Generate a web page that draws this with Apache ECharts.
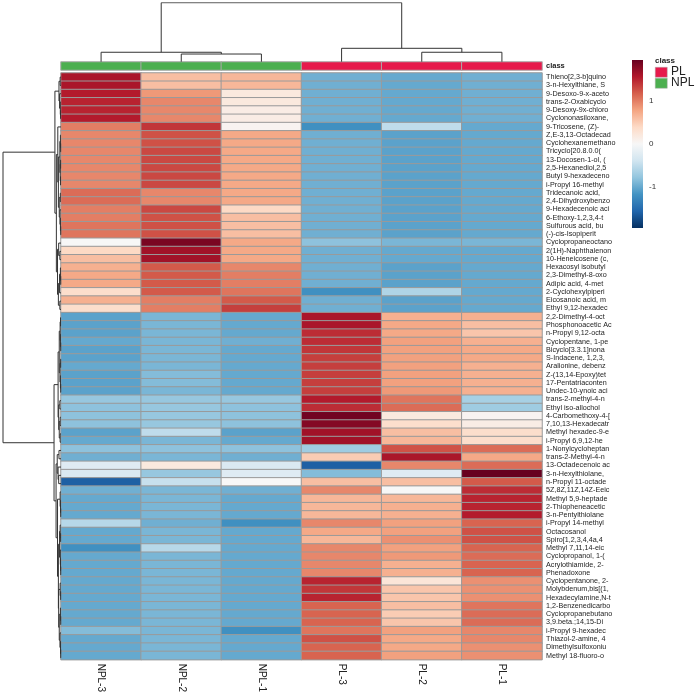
<!DOCTYPE html>
<html><head><meta charset="utf-8">
<script src="https://cdn.jsdelivr.net/npm/echarts@6/dist/echarts.min.js"></script>
<style>html,body{margin:0;padding:0;background:#fff}#c{width:700px;height:695px}</style>
</head><body><div id="c"></div>
<script>
// ---------- data ----------
const columns = ['NPL-3','NPL-2','NPL-1','PL-3','PL-2','PL-1'];
const columnClass = ['NPL','NPL','NPL','PL','PL','PL'];
const classNames = ['PL','NPL'];
const classColors = {PL:'#E6194B', NPL:'#4CAF50'};
const rowLabels = ["Thieno[2,3-b]quino","3-n-Hexylthiane, S","9-Desoxo-9-x-aceto","trans-2-Oxabicyclo","9-Desoxy-9x-chloro","Cyclononasiloxane,","9-Tricosene, (Z)-","Z,E-3,13-Octadecad","Cyclohexanemethano","Tricyclo[20.8.0.0(","13-Docosen-1-ol, (","2,5-Hexanediol,2,5","Butyl 9-hexadeceno","i-Propyl 16-methyl","Tridecanoic acid,","2,4-Dihydroxybenzo","9-Hexadecenoic aci","6-Ethoxy-1,2,3,4-t","Sulfurous acid, bu","(-)-cis-Isopiperit","Cyclopropaneoctano","2(1H)-Naphthalenon","10-Heneicosene (c,","Hexacosyl isobutyl","2,3-Dimethyl-8-oxo","Adipic acid, 4-met","2-Cyclohexylpiperi","Eicosanoic acid, m","Ethyl 9,12-hexadec","2,2-Dimethyl-4-oct","Phosphonoacetic Ac","n-Propyl 9,12-octa","Cyclopentane, 1-pe","Bicyclo[3.3.1]nona","S-Indacene, 1,2,3,","Aralionine, debenz","Z-(13,14-Epoxy)tet","17-Pentatriaconten","Undec-10-ynoic aci","trans-2-methyl-4-n","Ethyl iso-allochol","4-Carbomethoxy-4-[","7,10,13-Hexadecatr","Methyl hexadec-9-e","i-Propyl 6,9,12-he","1-Nonylcycloheptan","trans-2-Methyl-4-n","13-Octadecenoic ac","3-n-Hexylthiolane,","n-Propyl 11-octade","5Z,8Z,11Z,14Z-Eeic","Methyl 5,9-heptade","2-Thiopheneacetic","3-n-Pentylthiolane","i-Propyl 14-methyl","Octacosanol","Spiro[1,2,3,4,4a,4","Methyl 7,11,14-eic","Cyclopropanol, 1-(","Acrylothiamide, 2-","Phenadoxone","Cyclopentanone, 2-","Molybdenum,bis[(1,","Hexadecylamine,N-t","1,2-Benzenedicarbo","Cyclopropanebutano","3,9.beta.;14,15-Di","i-Propyl 9-hexadec","Thiazol-2-amine, 4","Dimethylsulfoxoniu","Methyl 18-fluoro-o"];

const valsNPL3 = [1.6,1.6,1.55,1.5,1.5,1.55,1.0,0.95,0.95,0.95,0.95,0.95,0.95,0.95,1.1,1.1,1.0,1.0,1.05,1.05,0.0,0.4,0.6,0.7,0.75,0.75,0.35,0.7,0.35,
 -1.05,-1.05,-1.05,-1.0,-1.05,-1.05,-1.0,-1.05,-1.05,-1.05,
 -0.75,-0.8,-0.8,-0.8,-1.05,-1.0,
 -0.8,-0.95,-0.25,-0.3,-1.6,
 -0.95,-1.0,-1.0,-1.0,
 -0.55,-1.0,-1.0,-1.2,-1.0,-1.0,-1.0,
 -1.0,-1.0,-1.0,-1.0,-1.0,-1.0,-0.85,-1.0,-1.0,-1.0];
const valsNPL2 = [0.6,0.6,0.85,0.95,0.95,0.95,1.4,1.25,1.25,1.3,1.3,1.3,1.3,1.3,0.95,0.95,1.3,1.25,1.25,1.25,1.85,1.65,1.65,1.2,1.2,1.2,1.2,1.0,1.0,
 -0.9,-0.9,-0.9,-0.9,-0.9,-0.9,-0.9,-0.85,-0.85,-0.9,
 -0.75,-0.75,-0.75,-0.75,-0.5,-0.9,
 -0.8,-0.9,0.2,-0.75,-0.45,
 -0.9,-0.9,-0.9,-0.9,
 -0.95,-0.9,-0.9,-0.55,-0.9,-0.9,-0.9,
 -0.9,-0.9,-0.9,-0.9,-0.9,-0.9,-0.9,-0.9,-0.9,-0.9];
const valsNPL1 = [0.65,0.65,0.2,0.2,0.15,0.15,0.05,0.75,0.75,0.75,0.75,0.75,0.75,0.75,0.75,0.75,0.4,0.6,0.6,0.6,0.75,0.75,0.75,0.95,1.0,1.0,1.05,1.2,1.35,
 -1.0,-1.0,-1.0,-0.95,-1.0,-1.0,-1.0,-1.0,-1.0,-1.0,
 -0.75,-0.8,-0.8,-0.8,-1.05,-1.0,
 -0.8,-0.95,-0.3,-0.25,0.0,
 -0.95,-1.0,-1.0,-1.0,
 -1.2,-1.0,-1.0,-1.0,-1.0,-1.0,-1.0,
 -1.0,-1.0,-1.0,-1.0,-1.0,-1.0,-1.2,-1.0,-1.0,-1.0];
const valsPL3 = [-0.95,-0.95,-0.95,-0.95,-0.95,-0.95,-1.2,-0.95,-0.95,-0.95,-0.95,-0.95,-0.95,-0.95,-0.95,-0.95,-0.95,-0.95,-0.95,-0.95,-0.8,-0.95,-0.95,-0.95,-0.95,-0.95,-1.2,-0.95,-0.95,
 1.6,1.6,1.45,1.45,1.4,1.35,1.35,1.35,1.35,1.35,
 1.55,1.45,1.9,1.8,1.65,1.65,
 -0.7,0.5,-1.6,-0.85,0.6,
 0.95,0.65,0.65,0.65,
 0.95,0.75,0.65,0.95,0.95,0.95,0.95,
 1.5,1.4,1.5,1.15,1.15,1.15,1.05,1.25,1.15,1.15];
const valsPL2 = [-1.0,-1.0,-1.0,-1.0,-1.0,-1.0,-0.5,-1.05,-1.05,-1.05,-1.05,-1.05,-1.05,-1.05,-1.05,-1.05,-1.05,-1.05,-1.05,-1.05,-0.9,-1.0,-1.0,-1.05,-1.05,-1.05,-0.6,-1.05,-1.05,
 0.7,0.75,0.75,0.8,0.8,0.8,0.8,0.8,0.8,0.85,
 1.05,1.1,0.2,0.35,0.6,0.65,
 1.25,1.6,0.95,-0.25,0.6,
 0.0,0.65,0.7,0.7,
 0.8,0.8,0.9,0.8,0.85,0.7,0.7,
 0.25,0.55,0.55,0.6,0.5,0.55,0.8,0.75,0.75,0.8];
const valsPL1 = [-0.95,-0.95,-0.95,-0.95,-0.95,-0.95,-1.0,-1.0,-1.0,-1.0,-1.0,-1.0,-1.0,-1.0,-1.0,-1.0,-1.0,-1.0,-1.0,-1.0,-0.9,-1.0,-1.0,-1.0,-1.0,-1.0,-1.0,-1.0,-1.0,
 0.7,0.6,0.55,0.7,0.75,0.75,0.7,0.7,0.7,0.7,
 -0.65,-0.7,0.05,0.15,0.35,0.35,
 1.1,0.75,1.1,1.95,1.2,
 1.45,1.5,1.5,1.55,
 1.15,1.25,1.25,1.15,1.1,1.15,1.15,
 0.9,0.9,0.9,1.05,1.1,1.1,0.95,0.95,0.9,0.9];

// dendrograms: node = [height, child, child]; leaf = index
const colTree = [10, [1.6, 0, [1.3, 1, 2]], [2.27, 3, [1.6, 4, 5]]];
const rowTreeA = [1.05,
  [0.35, [0.15, 0, 1], [0.25, 2, [0.12, 3, [0.08, 4, 5]]]],
  [0.8,
    [0.55, 6, [0.45, [0.2, [0.1, 7, [0.06, 8, 9]], [0.14, [0.07, 10, 11], [0.08, 12, 13]]],
                     [0.3, [0.12, 14, 15], [0.18, 16, [0.1, 17, [0.05, 18, 19]]]]]],
    [0.6, [0.4, 20, [0.2, 21, 22]], [0.45, [0.25, [0.1, 23, [0.05, 24, 25]], 26], [0.2, 27, 28]]]]];
const rowTreeB = [1.2,
  [0.5, [0.3, [0.15, [0.08, 29, 30], [0.1, 31, [0.05, 32, 33]]], [0.18, [0.06, 34, 35], [0.1, 36, [0.05, 37, 38]]]],
        [0.4, [0.2, 39, 40], [0.3, [0.15, 41, 42], [0.15, 43, 44]]]],
  [0.85,
    [0.65, [0.35, 45, 46], [0.5, 47, [0.4, 48, 49]]],
    [0.6, [0.15, 50, [0.08, 51, [0.05, 52, 53]]],
          [0.45, [0.25, [0.15, 54, [0.07, 55, 56]], [0.12, 57, [0.08, 58, [0.05, 59, 60]]]],
                 [0.4, [0.15, 61, [0.06, 62, 63]], [0.3, [0.1, 64, [0.05, 65, 66]], [0.18, 67, [0.08, 68, [0.05, 69, 70]]]]]]]]];
const rowTree = [10, rowTreeA, rowTreeB];

const colorTicks = [-1, 0, 1];
const cbMin = -1.95, cbMax = 1.95;
const palette = ['#053061','#2166AC','#4393C3','#92C5DE','#D1E5F0','#F7F7F7','#FDDBC7','#F4A582','#D6604D','#B2182B','#67001F'];

// ---------- build ----------
const colVals = [valsNPL3, valsNPL2, valsNPL1, valsPL3, valsPL2, valsPL1];
const heat = [];
colVals.forEach((arr, c) => arr.forEach((v, r) => heat.push([c, r, v])));
const classData = columnClass.map((k, i) => ({value: [i, 0, 1], itemStyle: {color: classColors[k]}}));

function layout(node, segs) {
  if (typeof node === 'number') return {pos: node + 0.5, h: 0};
  const a = layout(node[1], segs), b = layout(node[2], segs), h = node[0];
  segs.push([a, b, h]);
  return {pos: (a.pos + b.pos) / 2, h};
}
const colSegs = []; layout(colTree, colSegs);
const rowSegs = []; layout(rowTree, rowSegs);
const colLines = colSegs.map(([a, b, h]) => ({coords: [[a.pos, a.h], [a.pos, h], [b.pos, h], [b.pos, b.h]]}));
const rowLines = rowSegs.map(([a, b, h]) => ({coords: [[a.h, a.pos], [h, a.pos], [h, b.pos], [b.h, b.pos]]}));

const FONT = 'Liberation Sans, Arial, sans-serif';
const HM = {left: 61, top: 73, width: 481, height: 589};
const noAxis = {show: false};

const chart = echarts.init(document.getElementById('c'), null, {renderer: 'canvas'});
chart.setOption({
  animation: false,
  backgroundColor: '#fff',
  textStyle: {fontFamily: FONT},
  grid: [
    {left: HM.left, top: HM.top, width: HM.width, height: HM.height},
    {left: HM.left, top: 62, width: HM.width, height: 8},
    {left: HM.left, top: 2.7, width: HM.width, height: 59},
    {left: 3, top: HM.top, width: 58, height: HM.height},
    {left: 632, top: 60, width: 11, height: 168}
  ],
  xAxis: [
    {gridIndex: 0, type: 'category', data: columns, position: 'bottom',
     axisLine: noAxis, axisTick: noAxis, splitLine: noAxis,
     axisLabel: {rotate: -90, fontSize: 10, margin: 4, color: '#222', interval: 0, fontFamily: FONT}},
    {gridIndex: 1, type: 'category', data: columns, show: false},
    {gridIndex: 2, type: 'value', min: 0, max: 6, show: false},
    {gridIndex: 3, type: 'value', min: 0, max: 10, inverse: true, show: false},
    {gridIndex: 4, type: 'value', min: 0, max: 1, show: false}
  ],
  yAxis: [
    {gridIndex: 0, type: 'category', data: rowLabels, inverse: true, position: 'right',
     axisLine: noAxis, axisTick: noAxis, splitLine: noAxis,
     axisLabel: {fontSize: 7.2, margin: 4, color: '#222', interval: 0, fontFamily: FONT}},
    {gridIndex: 1, type: 'category', data: ['class'], position: 'right',
     axisLine: noAxis, axisTick: noAxis, splitLine: noAxis,
     axisLabel: {fontSize: 7.5, fontWeight: 'bold', margin: 4, color: '#222', fontFamily: FONT}},
    {gridIndex: 2, type: 'value', min: 0, max: 10, show: false},
    {gridIndex: 3, type: 'value', min: 0, max: rowLabels.length, inverse: true, show: false},
    {gridIndex: 4, type: 'value', min: cbMin, max: cbMax, position: 'right',
     axisLine: noAxis, axisTick: noAxis, splitLine: noAxis,
     axisLabel: {customValues: colorTicks, fontSize: 8, margin: 6, color: '#333', fontFamily: FONT}}
  ],
  visualMap: {type: 'continuous', show: false, seriesIndex: 0, dimension: 2,
              min: cbMin, max: cbMax, inRange: {color: palette}},
  series: [
    {type: 'heatmap', xAxisIndex: 0, yAxisIndex: 0, data: heat, silent: true,
     itemStyle: {borderColor: '#9a9a9a', borderWidth: 1}},
    {type: 'heatmap', xAxisIndex: 1, yAxisIndex: 1, data: classData, silent: true,
     itemStyle: {borderColor: '#aaaaaa', borderWidth: 1}},
    {type: 'lines', coordinateSystem: 'cartesian2d', xAxisIndex: 2, yAxisIndex: 2, polyline: true,
     data: colLines, silent: true, lineStyle: {color: '#333', width: 1, opacity: 1}},
    {type: 'lines', coordinateSystem: 'cartesian2d', xAxisIndex: 3, yAxisIndex: 3, polyline: true,
     data: rowLines, silent: true, lineStyle: {color: '#333', width: 1, opacity: 1}},
    {type: 'custom', xAxisIndex: 4, yAxisIndex: 4, data: [[0]], silent: true,
     renderItem: function (p, api) {
       const a = api.coord([0, cbMax]), b = api.coord([1, cbMin]);
       const stops = palette.map((c, i) => ({offset: i / (palette.length - 1), color: palette[palette.length - 1 - i]}));
       return {type: 'rect', shape: {x: a[0], y: a[1], width: b[0] - a[0], height: b[1] - a[1]},
               style: {fill: new echarts.graphic.LinearGradient(0, 0, 0, 1, stops)}};
     }}
  ],
  graphic: [
    {type: 'text', left: 655, top: 57, style: {text: 'class', font: 'bold 8px ' + FONT, fill: '#222'}},
    {type: 'rect', left: 655, top: 67, shape: {width: 12, height: 10},
     style: {fill: classColors[classNames[0]], stroke: '#aaa', lineWidth: 0.5}},
    {type: 'text', left: 671, top: 65.5, style: {text: classNames[0], font: '12px ' + FONT, fill: '#222'}},
    {type: 'rect', left: 655, top: 78, shape: {width: 12, height: 10},
     style: {fill: classColors[classNames[1]], stroke: '#aaa', lineWidth: 0.5}},
    {type: 'text', left: 671, top: 76.5, style: {text: classNames[1], font: '12px ' + FONT, fill: '#222'}}
  ]
});
</script></body></html>
